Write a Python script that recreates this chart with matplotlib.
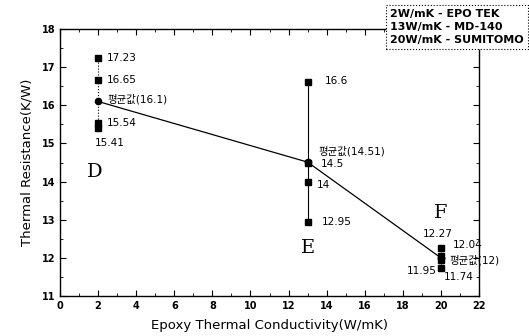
import matplotlib
matplotlib.use("Agg")
import matplotlib.pyplot as plt
from matplotlib.ticker import MultipleLocator

plt.rcParams['font.family'] = ['DejaVu Sans', 'Noto Sans CJK KR']

# Data
groups = ["D", "E", "F"]
conductivity = [2, 13, 20]
measurements = [
    [17.23, 16.65, 15.54, 15.41],
    [16.6, 14.5, 14.0, 12.95],
    [12.27, 12.04, 11.95, 11.74],
]
averages = [16.1, 14.51, 12.0]
legend_lines = ["2W/mK - EPO TEK", "13W/mK - MD-140", "20W/mK - SUMITOMO"]
avg_word = "평균값"

fig = plt.figure(figsize=(5.29, 3.36), dpi=100)
ax = fig.add_axes([60/529, 40/336, 419/529, 267/336])

# vertical connectors
styles = [':', '-', ':']
for x, vals, ls, avg in zip(conductivity, measurements, styles, averages):
    allv = vals + [avg]
    ax.plot([x, x], [min(allv), max(allv)], color='black', lw=0.8, ls=ls, zorder=1)

# trend line through averages
ax.plot(conductivity, averages, color='black', lw=0.9, zorder=2)

# markers
for x, vals in zip(conductivity, measurements):
    ax.plot([x]*len(vals), vals, ls='none', marker='s', ms=4, color='black', zorder=3)
ax.plot(conductivity, averages, ls='none', marker='o', ms=4.5, color='black', zorder=3)

fs = 7.5
kfam = ['DejaVu Sans', 'Noto Sans CJK KR']
# D labels
ax.text(2.45, 17.23, "17.23", fontsize=fs, va='center')
ax.text(2.45, 16.65, "16.65", fontsize=fs, va='center')
ax.text(2.5, 16.17, f"{avg_word}(16.1)", fontsize=fs, va='center', family=kfam)
ax.text(2.45, 15.54, "15.54", fontsize=fs, va='center')
ax.text(1.85, 15.0, "15.41", fontsize=fs, va='center')
# E labels
ax.text(13.9, 16.64, "16.6", fontsize=fs, va='center')
ax.text(13.55, 14.8, f"{avg_word}(14.51)", fontsize=fs, va='center', family=kfam)
ax.text(13.7, 14.47, "14.5", fontsize=fs, va='center')
ax.text(13.5, 13.92, "14", fontsize=fs, va='center')
ax.text(13.75, 12.95, "12.95", fontsize=fs, va='center')
# F labels
ax.text(19.85, 12.63, "12.27", fontsize=fs, va='center', ha='center')
ax.text(20.6, 12.33, "12.04", fontsize=fs, va='center')
ax.text(20.45, 11.95, f"{avg_word}(12)", fontsize=fs, va='center', family=kfam)
ax.text(19.8, 11.65, "11.95", fontsize=fs, va='center', ha='right')
ax.text(20.15, 11.5, "11.74", fontsize=fs, va='center')

# group letters
letter_pos = [(1.85, 14.26), (13.0, 12.27), (20.0, 13.18)]
for g, (lx, ly) in zip(groups, letter_pos):
    ax.text(lx, ly, g, fontsize=14, family='DejaVu Serif', ha='center', va='center')

ax.set_xlim(0, 22)
ax.set_ylim(11, 18)
ax.xaxis.set_major_locator(MultipleLocator(2))
ax.xaxis.set_minor_locator(MultipleLocator(1))
ax.yaxis.set_major_locator(MultipleLocator(1))
ax.yaxis.set_minor_locator(MultipleLocator(0.5))
ax.tick_params(which='both', direction='in', top=True, right=True, labelsize=7)
ax.tick_params(which='major', length=4)
ax.tick_params(which='minor', length=2)
for lbl in ax.get_xticklabels() + ax.get_yticklabels():
    lbl.set_fontweight('bold')
for s in ax.spines.values():
    s.set_linewidth(1.0)

ax.set_xlabel("Epoxy Thermal Conductivity(W/mK)", fontsize=9.5, labelpad=6)
ax.set_ylabel("Thermal Resistance(K/W)", fontsize=9.5, labelpad=6)

fig.text(390/529, 1 - 9/336, "\n".join(legend_lines), fontsize=8, fontweight='bold',
         va='top', ha='left', linespacing=1.4,
         bbox=dict(boxstyle='square,pad=0.35', fc='white', ec='black', ls=':', lw=0.8))

fig.savefig("out.png", dpi=100)
